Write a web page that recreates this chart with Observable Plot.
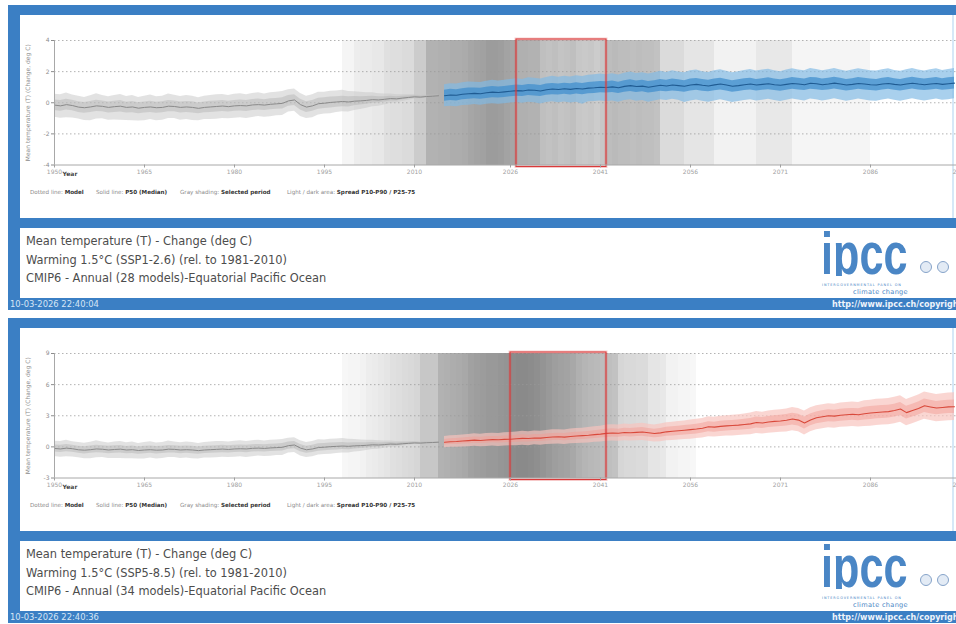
<!DOCTYPE html>
<html><head><meta charset="utf-8">
<script src="https://cdn.jsdelivr.net/npm/d3@7"></script>
<script src="https://cdn.jsdelivr.net/npm/@observablehq/plot@0.6"></script>
<style>
html,body{margin:0;padding:0;background:#fff;}
body{width:956px;height:624px;overflow:hidden;position:relative;font-family:"DejaVu Sans",sans-serif;}
.panel{position:absolute;left:0;width:1000px;height:313px;}
.blue{position:absolute;background:#3b7fc4;}
.white{position:absolute;background:#fff;}
.chart{position:absolute;left:20px;top:15px;width:958px;height:203px;}
.legend{position:absolute;top:189px;font-size:5.6px;line-height:6px;color:#8a8a8a;white-space:nowrap;}
.legend b{color:#333;}
.cap{position:absolute;left:26px;top:232px;font-size:11.4px;line-height:18.5px;color:#4d4d4d;white-space:nowrap;}
.stamp{position:absolute;left:10px;top:299px;font-size:8.4px;line-height:11px;color:#d6e6f6;white-space:nowrap;}
.url{position:absolute;left:832px;top:299px;font-size:8px;line-height:11px;color:#eef4fb;font-weight:bold;white-space:nowrap;}
.logo{position:absolute;left:821px;top:224px;height:52px;width:95px;overflow:hidden;}
.logo span{display:block;font-family:"Liberation Sans",Arial,sans-serif;font-weight:bold;font-size:60px;line-height:60px;color:#4a86c5;transform:scaleX(0.72);transform-origin:left top;}
.ipcc1{position:absolute;left:822px;top:283px;font-size:3.4px;line-height:4px;letter-spacing:0.9px;color:#4a86c5;white-space:nowrap;}
.ipcc2{position:absolute;left:853px;top:288px;font-size:6.6px;line-height:8px;color:#4a86c5;white-space:nowrap;letter-spacing:0.3px;}
.emb{position:absolute;top:261px;width:10px;height:10px;border:1.5px solid #86a3c9;border-radius:50%;background:#e3ebf5;}
</style>
</head><body>
<script>
// ---------- data ----------
const xTicks = [1950,1965,1980,1995,2010,2026,2041,2056,2071,2086,2101];
const histYears = d3.range(1950, 2015);
const scenYears = d3.range(2015, 2101);

const histMed = [
-0.15,-0.2,-0.12,-0.18,-0.28,-0.32,-0.27,-0.2,-0.23,-0.3,
-0.25,-0.22,-0.3,-0.27,-0.35,-0.3,-0.27,-0.32,-0.3,-0.22,
-0.24,-0.3,-0.27,-0.3,-0.36,-0.3,-0.27,-0.24,-0.21,-0.25,
-0.2,-0.18,-0.2,-0.14,-0.12,-0.15,-0.1,-0.07,-0.04,0.12,
0.18,-0.12,-0.28,-0.2,-0.06,-0.03,0.02,0.05,0.08,0.05,
0.1,0.12,0.15,0.2,0.18,0.22,0.27,0.25,0.3,0.34,
0.38,0.36,0.4,0.42,0.45];
const histP90 = [
0.55,0.52,0.63,0.5,0.42,0.34,0.45,0.58,0.47,0.38,
0.47,0.53,0.4,0.47,0.33,0.42,0.49,0.38,0.42,0.56,
0.48,0.4,0.47,0.42,0.32,0.42,0.47,0.52,0.53,0.47,
0.54,0.58,0.52,0.6,0.64,0.57,0.65,0.67,0.72,0.84,
0.88,0.6,0.42,0.52,0.68,0.67,0.74,0.75,0.8,0.73,
0.7,0.67,0.65,0.65,0.58,0.57,0.57,0.51,0.52,0.52,
0.52,0.47,0.48,0.48,0.5];
const histP10 = [
-0.93,-1.0,-0.96,-0.98,-1.04,-1.14,-1.15,-1.05,-1.03,-1.12,
-1.11,-1.12,-1.14,-1.15,-1.17,-1.16,-1.07,-1.16,-1.12,-1.02,
-1.02,-1.12,-1.07,-1.14,-1.16,-1.08,-1.07,-1.06,-1.01,-1.03,
-1.0,-0.96,-1.02,-0.94,-0.88,-0.93,-0.9,-0.83,-0.82,-0.6,
-0.54,-0.88,-1.02,-0.96,-0.78,-0.73,-0.7,-0.63,-0.58,-0.59,
-0.5,-0.44,-0.35,-0.26,-0.22,-0.14,-0.03,-0.01,0.08,0.16,
0.24,0.25,0.32,0.36,0.4];
const histP75 = [
0.18,0.15,0.22,0.16,0.06,0.02,0.08,0.16,0.12,0.05,
0.1,0.14,0.04,0.08,0.0,0.05,0.09,0.03,0.06,0.14,
0.11,0.05,0.08,0.06,-0.01,0.05,0.09,0.12,0.15,0.1,
0.15,0.18,0.15,0.21,0.24,0.2,0.25,0.28,0.32,0.47,
0.52,0.23,0.07,0.15,0.29,0.32,0.37,0.39,0.42,0.38,
0.4,0.39,0.4,0.42,0.38,0.39,0.42,0.38,0.41,0.43,
0.45,0.42,0.44,0.45,0.47];
const histP25 = [
-0.5,-0.55,-0.46,-0.52,-0.62,-0.68,-0.62,-0.56,-0.58,-0.66,
-0.62,-0.6,-0.66,-0.64,-0.7,-0.66,-0.62,-0.68,-0.65,-0.58,
-0.58,-0.66,-0.62,-0.66,-0.7,-0.65,-0.62,-0.6,-0.56,-0.6,
-0.55,-0.53,-0.56,-0.5,-0.47,-0.5,-0.45,-0.42,-0.4,-0.23,
-0.17,-0.47,-0.62,-0.55,-0.41,-0.37,-0.33,-0.29,-0.26,-0.28,
-0.2,-0.15,-0.1,-0.03,-0.02,0.05,0.12,0.12,0.19,0.25,
0.31,0.3,0.36,0.39,0.43];

// SSP1-2.6 (top panel)
const topMed = [
0.45,0.5,0.48,0.55,0.58,0.6,0.58,0.64,0.68,0.66,
0.7,0.74,0.78,0.76,0.82,0.8,0.76,0.84,0.88,0.85,
0.9,0.86,0.92,0.88,0.94,0.96,1.0,0.98,1.02,0.96,
1.05,1.1,1.04,1.07,1.0,1.06,1.12,1.08,1.14,1.1,
1.06,1.14,1.18,1.12,1.08,1.15,1.2,1.14,1.06,1.1,
1.16,1.2,1.14,1.18,1.22,1.16,1.12,1.18,1.24,1.2,
1.16,1.25,1.22,1.16,1.2,1.26,1.2,1.14,1.18,1.24,
1.2,1.16,1.14,1.2,1.24,1.18,1.14,1.2,1.25,1.2,
1.16,1.2,1.24,1.18,1.22,1.26];
const topP90 = [
1.15,1.22,1.2,1.28,1.34,1.32,1.3,1.38,1.45,1.4,
1.44,1.5,1.55,1.5,1.6,1.58,1.52,1.62,1.7,1.64,
1.7,1.66,1.74,1.68,1.76,1.8,1.85,1.8,1.86,1.78,
1.9,1.98,1.88,1.92,1.84,1.92,2.02,1.95,2.05,1.98,
1.92,2.05,2.1,2.0,1.95,2.06,2.12,2.02,1.92,2.0,
2.08,2.14,2.04,2.1,2.16,2.06,2.0,2.1,2.18,2.1,
2.05,2.2,2.14,2.06,2.12,2.2,2.1,2.02,2.1,2.18,
2.12,2.06,2.04,2.12,2.18,2.08,2.02,2.12,2.2,2.1,
2.04,2.12,2.18,2.08,2.14,2.2];
const topP10 = [
-0.25,-0.22,-0.26,-0.18,-0.16,-0.12,-0.16,-0.1,-0.06,-0.1,
-0.06,-0.02,0.02,-0.04,0.04,0.0,-0.08,0.02,0.06,0.0,
0.05,-0.02,0.04,-0.1,0.06,0.08,0.12,0.08,0.12,0.04,
0.14,0.2,0.1,0.14,0.04,0.12,0.2,0.14,0.22,0.16,
0.02,0.12,0.18,0.1,0.04,0.12,0.2,0.12,0.02,0.08,
0.14,0.2,0.12,0.16,0.22,0.14,0.08,0.16,0.24,0.18,
0.12,0.24,0.2,0.12,0.18,0.26,0.18,0.1,0.16,0.24,
0.18,0.12,0.1,0.18,0.24,0.16,0.1,0.18,0.26,0.18,
0.12,0.18,0.24,0.16,0.2,0.26];
const topP75 = [
0.8,0.86,0.83,0.9,0.94,0.95,0.93,1.0,1.04,1.01,
1.05,1.1,1.14,1.11,1.18,1.16,1.11,1.2,1.24,1.2,
1.26,1.22,1.28,1.24,1.3,1.33,1.37,1.35,1.39,1.32,
1.42,1.48,1.4,1.44,1.36,1.42,1.5,1.45,1.52,1.47,
1.42,1.52,1.56,1.49,1.44,1.52,1.58,1.5,1.42,1.47,
1.54,1.58,1.5,1.55,1.6,1.52,1.48,1.55,1.62,1.57,
1.52,1.63,1.6,1.52,1.57,1.64,1.57,1.5,1.55,1.62,
1.58,1.52,1.5,1.57,1.62,1.55,1.5,1.57,1.64,1.57,
1.52,1.57,1.62,1.55,1.6,1.64];
const topP25 = [
0.1,0.14,0.12,0.2,0.22,0.25,0.22,0.28,0.32,0.3,
0.34,0.38,0.42,0.4,0.46,0.44,0.4,0.48,0.52,0.49,
0.54,0.5,0.56,0.52,0.58,0.6,0.64,0.62,0.66,0.6,
0.68,0.72,0.66,0.7,0.62,0.68,0.74,0.7,0.76,0.72,
0.68,0.76,0.8,0.74,0.7,0.77,0.82,0.76,0.68,0.72,
0.78,0.82,0.76,0.8,0.84,0.78,0.74,0.8,0.86,0.82,
0.78,0.86,0.84,0.78,0.82,0.88,0.82,0.76,0.8,0.86,
0.82,0.78,0.76,0.82,0.86,0.8,0.76,0.82,0.88,0.82,
0.78,0.82,0.86,0.8,0.84,0.88];

// SSP5-8.5 (bottom panel)
const botMed = [
0.45,0.5,0.52,0.56,0.6,0.65,0.62,0.66,0.7,0.68,
0.72,0.74,0.78,0.82,0.8,0.86,0.84,0.9,0.95,0.97,
0.94,1.0,1.05,1.08,1.12,1.18,1.23,1.3,1.34,1.32,
1.39,1.36,1.4,1.44,1.36,1.29,1.35,1.45,1.5,1.55,
1.6,1.66,1.72,1.8,1.94,1.9,1.98,2.02,2.06,2.1,
2.16,2.22,2.35,2.3,2.4,2.46,2.5,2.56,2.68,2.58,
2.3,2.6,2.8,2.9,3.0,2.96,3.05,3.1,3.14,3.1,
3.2,3.26,3.32,3.36,3.4,3.5,3.65,3.3,3.5,3.7,
3.97,3.85,3.74,3.8,3.86,3.87];
const botP90 = [
1.0,1.08,1.1,1.14,1.2,1.26,1.22,1.28,1.32,1.3,
1.36,1.38,1.44,1.5,1.46,1.52,1.5,1.58,1.64,1.66,
1.62,1.72,1.78,1.8,1.86,1.94,2.0,2.1,2.14,2.1,
2.2,2.16,2.22,2.28,2.18,2.12,2.2,2.32,2.38,2.44,
2.5,2.58,2.66,2.74,2.9,2.86,2.94,3.0,3.04,3.1,
3.18,3.26,3.4,3.34,3.46,3.54,3.58,3.66,3.8,3.7,
3.45,3.76,3.96,4.06,4.16,4.12,4.22,4.28,4.32,4.28,
4.44,4.5,4.58,4.62,4.66,4.78,4.92,4.56,4.78,5.0,
5.28,5.16,5.06,5.12,5.2,5.22];
const botP10 = [
-0.08,-0.04,-0.04,0.0,0.02,0.06,0.02,0.04,0.08,0.04,
0.08,0.1,0.12,0.16,0.12,0.2,0.16,0.22,0.26,0.28,
0.24,0.3,0.33,0.36,0.38,0.44,0.48,0.54,0.56,0.54,
0.6,0.56,0.58,0.62,0.54,0.46,0.5,0.6,0.62,0.66,
0.7,0.74,0.8,0.86,0.98,0.94,1.0,1.04,1.06,1.1,
1.14,1.18,1.3,1.24,1.32,1.36,1.4,1.44,1.56,1.46,
1.15,1.45,1.64,1.74,1.84,1.8,1.88,1.92,1.96,1.92,
1.96,2.0,2.06,2.1,2.14,2.24,2.38,2.04,2.24,2.44,
2.66,2.54,2.42,2.48,2.52,2.54];
const botP75 = [
0.72,0.78,0.8,0.85,0.9,0.95,0.92,0.97,1.01,0.99,
1.04,1.06,1.11,1.16,1.13,1.19,1.17,1.24,1.29,1.31,
1.28,1.36,1.41,1.44,1.49,1.56,1.62,1.7,1.74,1.71,
1.79,1.76,1.81,1.86,1.77,1.7,1.77,1.88,1.94,2.0,
2.05,2.12,2.19,2.27,2.42,2.38,2.46,2.51,2.55,2.6,
2.67,2.74,2.88,2.82,2.93,3.0,3.04,3.11,3.24,3.14,
2.87,3.17,3.37,3.47,3.57,3.53,3.62,3.67,3.71,3.67,
3.82,3.88,3.94,3.98,4.02,4.12,4.27,3.92,4.12,4.32,
4.62,4.5,4.38,4.44,4.5,4.52];
const botP25 = [
0.18,0.22,0.24,0.27,0.3,0.35,0.32,0.35,0.39,0.37,
0.4,0.42,0.45,0.48,0.47,0.53,0.51,0.56,0.61,0.63,
0.6,0.64,0.69,0.72,0.75,0.8,0.85,0.9,0.94,0.93,
0.99,0.96,0.99,1.02,0.95,0.88,0.93,1.02,1.06,1.1,
1.15,1.2,1.25,1.33,1.46,1.42,1.49,1.53,1.57,1.6,
1.65,1.7,1.82,1.78,1.87,1.92,1.96,2.01,2.12,2.02,
1.73,2.03,2.23,2.33,2.43,2.39,2.48,2.53,2.57,2.53,
2.58,2.64,2.7,2.74,2.78,2.88,3.03,2.68,2.88,3.08,
3.32,3.2,3.1,3.16,3.22,3.22];

// gray shading (share of models whose selected period covers the year)
const shadeYearsTop = d3.range(1998, 2086);
const shadeTop = [
0.04,0.04,
0.07,0.08,0.08,0.09,0.09,0.12,0.13,0.13,0.14,0.14,
0.2,0.2,0.3,0.3,0.31,0.31,0.32,0.32,0.33,0.35,
0.36,0.37,0.39,0.39,0.38,0.36,0.35,0.31,0.31,0.3,
0.3,0.25,0.24,0.25,0.23,0.24,0.25,0.22,0.21,0.22,
0.2,0.22,0.26,0.27,0.26,0.26,0.25,0.26,0.25,0.25,
0.24,0.14,0.14,0.14,0.14,0.1,0.1,0.1,0.1,0.1,
0.05,0.05,0.05,0.05,0.05,0.05,0.05,0.09,0.09,0.09,
0.09,0.09,0.09,0.04,0.04,0.04,0.04,0.04,0.04,0.04,
0.04,0.04,0.04,0.04,0.04,0.04];
const shadeYearsBot = d3.range(1998, 2057);
const shadeBot = [
0.03,0.04,
0.04,0.05,0.07,0.08,0.09,0.1,0.12,0.13,0.14,0.15,
0.16,0.22,0.22,0.22,0.3,0.31,0.32,0.33,0.34,0.37,
0.38,0.39,0.4,0.4,0.41,0.42,0.45,0.46,0.46,0.45,
0.44,0.42,0.4,0.38,0.37,0.36,0.34,0.31,0.29,0.28,
0.27,0.26,0.25,0.24,0.16,0.15,0.15,0.14,0.14,0.1,
0.1,0.09,0.05,0.05,0.04,0.04,0.03];

const topPeriod = [2027, 2042];
const botPeriod = [2026, 2042];

const yLabel = "Mean temperature (T) (Change, deg C)";
const captionTop = ["Mean temperature (T) - Change (deg C)", "Warming 1.5°C (SSP1-2.6) (rel. to 1981-2010)", "CMIP6 - Annual (28 models)-Equatorial Pacific Ocean"];
const captionBot = ["Mean temperature (T) - Change (deg C)", "Warming 1.5°C (SSP5-8.5) (rel. to 1981-2010)", "CMIP6 - Annual (34 models)-Equatorial Pacific Ocean"];
const stamps = ["10-03-2026 22:40:04", "10-03-2026 22:40:36"];
const legendItems = [["Dotted line: ", "Model", 30], ["Solid line: ", "P50 (Median)", 96], ["Gray shading: ", "Selected period", 180], ["Light / dark area: ", "Spread P10-P90 / P25-75", 287]];

// ---------- build ----------
const hist = histYears.map((year, i) => ({year, med: histMed[i], p10: histP10[i], p90: histP90[i], p25: histP25[i], p75: histP75[i]}));
function scen(med, p10, p90, p25, p75) {
  return scenYears.map((year, i) => ({year, med: med[i], p10: p10[i], p90: p90[i], p25: p25[i], p75: p75[i]}));
}
const panels = [
  {top: 0, yDomain: [-4, 4], yTicks: [-4, -2, 0, 2, 4], grid: [-2, 0, 2, 4],
   shade: shadeYearsTop.map((year, i) => ({year, op: shadeTop[i]})), period: topPeriod,
   data: scen(topMed, topP10, topP90, topP25, topP75),
   light: "#80b9e4", lightOp: 0.68, dark: "#3f8ecd", darkOp: 0.72, line: "#1f5b92",
   caption: captionTop, stamp: stamps[0]},
  {top: 313, yDomain: [-3, 9], yTicks: [-3, 0, 3, 6, 9], grid: [0, 3, 6, 9],
   shade: shadeYearsBot.map((year, i) => ({year, op: shadeBot[i]})), period: botPeriod,
   data: scen(botMed, botP10, botP90, botP25, botP75),
   light: "#f7c2bc", lightOp: 0.68, dark: "#f29e95", darkOp: 0.5, line: "#d9493b",
   caption: captionBot, stamp: stamps[1]}
];

function chart(p) {
  return Plot.plot({
    width: 958, height: 203,
    marginLeft: 34, marginRight: 0, marginTop: 25, marginBottom: 53.5,
    style: "background:transparent;max-width:none;overflow:visible;font-family:'DejaVu Sans',sans-serif;",
    x: {domain: [1950, 2104]},
    y: {domain: p.yDomain},
    marks: [
      Plot.rect(p.shade, {x1: "year", x2: d => d.year + 1, fill: "#000", fillOpacity: "op", shapeRendering: "crispEdges"}),
      Plot.gridY(p.grid, {stroke: "#999", strokeOpacity: 0.75, strokeDasharray: "1.5,2.5"}),
      Plot.areaY(hist, {x: "year", y1: "p10", y2: "p90", fill: "#c6c6c6", fillOpacity: 0.5}),
      Plot.areaY(hist, {x: "year", y1: "p25", y2: "p75", fill: "#adadad", fillOpacity: 0.42}),
      Plot.lineY(hist, {x: "year", y: "med", stroke: "#8a8a8a", strokeWidth: 1}),
      Plot.areaY(p.data, {x: "year", y1: "p10", y2: "p90", fill: p.light, fillOpacity: p.lightOp}),
      Plot.areaY(p.data, {x: "year", y1: "p25", y2: "p75", fill: p.dark, fillOpacity: p.darkOp}),
      Plot.lineY(p.data, {x: "year", y: "med", stroke: p.line, strokeWidth: 1.1}),
      Plot.rect([p.period], {x1: d => d[0], x2: d => d[1], fill: "none", stroke: "#e04848", strokeOpacity: 0.25, strokeWidth: 3, insetTop: -1, insetBottom: -2}),
      Plot.rect([p.period], {x1: d => d[0], x2: d => d[1], fill: "none", stroke: "#d93a3a", strokeWidth: 1.1, insetTop: -1, insetBottom: -2}),
      Plot.ruleY([p.yDomain[0]], {stroke: "#a8a8a8"}),
      Plot.ruleX([1950], {stroke: "#a8a8a8"}),
      Plot.axisX(xTicks, {tickFormat: d => String(d), tickSize: 3, tickPadding: 2, fontSize: 6, color: "#a0a0a0", label: null}),
      Plot.axisY(p.yTicks, {tickFormat: d => String(d), tickSize: 3, tickPadding: 2, fontSize: 6, color: "#8c8c8c",
        label: yLabel, labelAnchor: "center", labelArrow: "none", labelOffset: 29}),
      Plot.text(["Year"], {frameAnchor: "bottom-left", text: d => d, dx: 8, dy: 11, fontSize: 6, fontWeight: "bold", fill: "#444", textAnchor: "start"})
    ]
  });
}

function el(cls, parent, style, text) {
  const e = document.createElement("div");
  if (cls) e.className = cls;
  if (style) e.setAttribute("style", style);
  if (text != null) e.textContent = text;
  parent.appendChild(e);
  return e;
}

for (const p of panels) {
  const pan = el("panel", document.body, `top:${p.top}px`);
  el("blue", pan, "left:8px;top:5px;width:992px;height:10px");
  el("blue", pan, "left:8px;top:5px;width:12px;height:305px");
  el("blue", pan, "left:8px;top:218px;width:992px;height:10px");
  el("blue", pan, "left:8px;top:298px;width:992px;height:12px");
  el("white", pan, "left:952px;top:15px;width:2px;height:203px;background:#d6e8f7");
  const c = el("chart", pan);
  c.appendChild(chart(p));
  for (const [a, b, x] of legendItems) {
    const l = el("legend", pan, `left:${x}px`);
    l.appendChild(document.createTextNode(a));
    const bb = document.createElement("b"); bb.textContent = b; l.appendChild(bb);
  }
  const cap = el("cap", pan);
  p.caption.forEach(t => el(null, cap, null, t));
  el("stamp", pan, null, p.stamp);
  el("url", pan, null, "http://www.ipcc.ch/copyright");
  const lg = el("logo", pan);
  const s = document.createElement("span"); s.textContent = "ipcc"; lg.appendChild(s);
  el("ipcc1", pan, null, "INTERGOVERNMENTAL PANEL ON");
  el("ipcc2", pan, null, "climate change");
  el("emb", pan, "left:920px");
  el("emb", pan, "left:937px");
}
</script>
</body></html>
